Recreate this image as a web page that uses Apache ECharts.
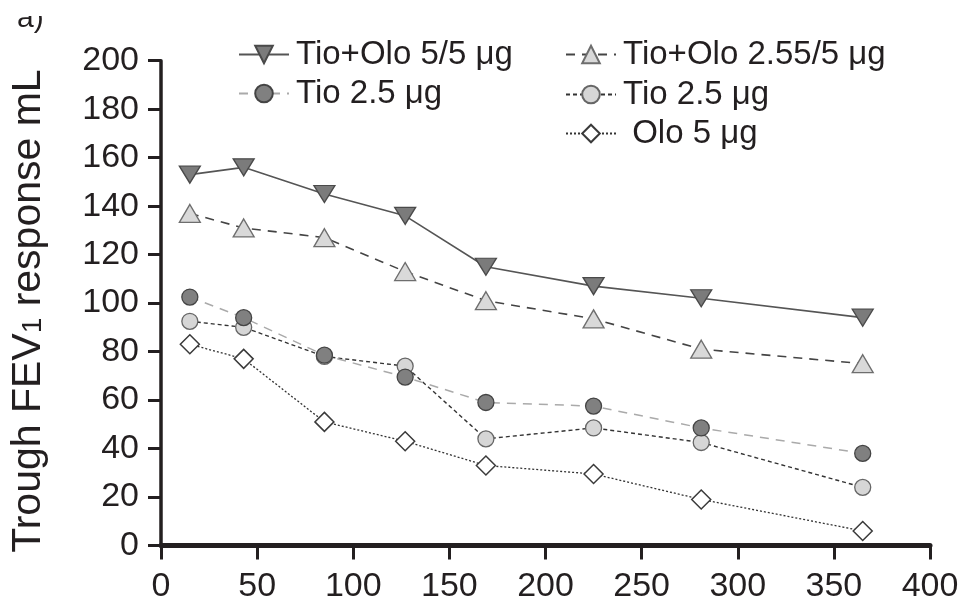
<!DOCTYPE html>
<html>
<head>
<meta charset="utf-8">
<script src="https://cdn.jsdelivr.net/npm/echarts@6/dist/echarts.min.js"></script>
<style>
html,body{margin:0;padding:0;background:#fff;}
#chart{width:963px;height:605px;}
</style>
</head>
<body>
<div id="chart"></div>
<script>
// ---- data ----
const days = [15, 43, 85, 127, 169, 225, 281, 365];
const seriesNames = ['Tio+Olo 5/5 μg', 'Tio+Olo 2.55/5 μg', 'Olo 5 μg', 'Tio 2.5 μg (light)', 'Tio 2.5 μg (dark)'];
const legendLabels = ['Tio+Olo 5/5 μg', 'Tio+Olo 2.55/5 μg', ' Olo 5 μg', 'Tio 2.5 μg', 'Tio 2.5 μg'];
const tioOlo55 = [153, 156, 145, 136, 115, 107, 102, 94];
const tioOlo255 = [137, 131, 127, 113, 101, 93.5, 81, 75];
const olo5 = [83, 77, 51, 43, 33, 29.5, 19, 6];
const tioLight = [92.5, 90, 78, 74, 44, 48.5, 42.5, 24];
const tioDark = [102.5, 94, 78.5, 69.5, 59, 57.5, 48.5, 38];
const xTicks = [0, 50, 100, 150, 200, 250, 300, 350, 400];
const yTicks = [0, 20, 40, 60, 80, 100, 120, 140, 160, 180, 200];

const pair = (vals) => days.map((d, i) => [d, vals[i]]);
const FONT = 'Liberation Sans';
const INK = '#231f20';

const chart = echarts.init(document.getElementById('chart'), null, {renderer: 'canvas'});

function legendAt(idx, left, top) {
  return {
    data: [seriesNames[idx]],
    left: left, top: top,
    orient: 'horizontal',
    itemWidth: 50, itemHeight: 22,
    itemGap: 0,
    selectedMode: false,
    padding: 0,
    formatter: () => legendLabels[idx],
    textStyle: {fontFamily: FONT, fontSize: 33, color: INK, padding: [0, 0, 0, 2]}
  };
}

const option = {
  backgroundColor: '#fff',
  animation: false,
  graphic: [{
    type: 'text', left: 17, top: 4,
    style: {text: 'a)', fontFamily: FONT, fontSize: 30, fill: INK}
  }, {
    type: 'rect', left: 0, top: 0, shape: {width: 80, height: 16}, style: {fill: '#fff'}, z: 100
  }],
  legend: [
    legendAt(0, 238, 38),
    legendAt(1, 565, 38),
    legendAt(4, 238, 77),
    legendAt(3, 565, 78),
    legendAt(2, 565, 117)
  ],
  grid: {left: 161, right: 33, top: 60.7, bottom: 59.5, containLabel: false, outerBoundsMode: 'none'},
  xAxis: {
    type: 'value', min: 0, max: 400, interval: 50,
    axisLine: {show: true, lineStyle: {color: INK, width: 5}},
    axisTick: {show: true, length: 14, lineStyle: {color: INK, width: 3}},
    axisLabel: {fontFamily: FONT, fontSize: 34, color: INK, margin: 24,
      formatter: (v) => xTicks.includes(v) ? String(v) : ''},
    splitLine: {show: false}
  },
  yAxis: {
    type: 'value', min: 0, max: 200, interval: 20,
    name: 'Trough FEV{sub|1} response mL',
    nameLocation: 'middle', nameGap: 112, nameRotate: 90,
    nameTextStyle: {fontFamily: FONT, fontSize: 41, color: INK, padding: [0, 16, 0, 0],
      rich: {sub: {fontFamily: FONT, fontSize: 28, color: INK, padding: [10, 0, 0, 0]}}},
    axisLine: {show: true, lineStyle: {color: INK, width: 3.5}},
    axisTick: {show: true, length: 13, lineStyle: {color: INK, width: 3}},
    axisLabel: {fontFamily: FONT, fontSize: 34, color: INK, margin: 22,
      formatter: (v) => yTicks.includes(v) ? String(v) : ''},
    splitLine: {show: false}
  },
  series: [
    {
      name: seriesNames[0], type: 'line', data: pair(tioOlo55),
      symbol: 'triangle', symbolRotate: 180, symbolSize: [21, 17],
      lineStyle: {color: '#555', width: 1.6, type: 'solid'},
      itemStyle: {color: '#7b7b7b', borderColor: '#4a4a4a', borderWidth: 1.3},
      z: 2
    },
    {
      name: seriesNames[1], type: 'line', data: pair(tioOlo255),
      symbol: 'triangle', symbolSize: [21, 18],
      lineStyle: {color: '#444', width: 1.6, type: [9, 7]},
      itemStyle: {color: '#d9d9d9', borderColor: '#6e6e6e', borderWidth: 1.3},
      z: 2
    },
    {
      name: seriesNames[2], type: 'line', data: pair(olo5),
      symbol: 'diamond', symbolSize: 19,
      lineStyle: {color: '#333', width: 1.3, type: [2, 2]},
      itemStyle: {color: '#ffffff', borderColor: '#3a3a3a', borderWidth: 1.5},
      z: 2
    },
    {
      name: seriesNames[3], type: 'line', data: pair(tioLight),
      symbol: 'circle', symbolSize: 16,
      lineStyle: {color: '#333', width: 1.4, type: [4, 3]},
      itemStyle: {color: '#d6d6d6', borderColor: '#666', borderWidth: 1.3},
      z: 2
    },
    {
      name: seriesNames[4], type: 'line', data: pair(tioDark),
      symbol: 'circle', symbolSize: 16,
      lineStyle: {color: '#aaa', width: 1.5, type: [9, 7]},
      itemStyle: {color: '#808080', borderColor: '#444', borderWidth: 1.3},
      z: 3
    }
  ]
};
chart.setOption(option);
</script>
</body>
</html>
